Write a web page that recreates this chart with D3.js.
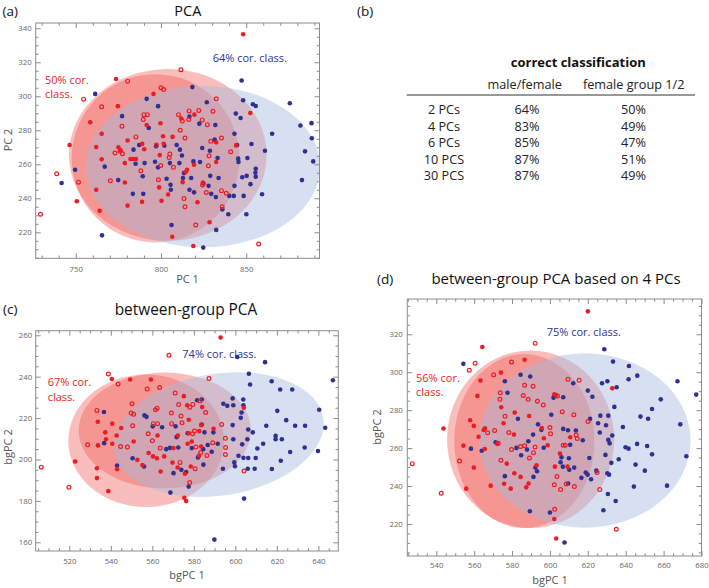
<!DOCTYPE html>
<html><head><meta charset="utf-8">
<script src="https://cdn.jsdelivr.net/npm/d3@7"></script>
<style>
body{margin:0;background:#fff;}
svg{display:block;font-family:"Open Sans",sans-serif;}
</style></head><body>
<svg id="chart" width="709" height="588"></svg>
<script>
// ---------------- DATA ----------------
// Panel (a) PCA
const aXTicks = [750, 800, 850];
const aYTicks = [220, 240, 260, 280, 300, 320, 340];
const aBlue = [[741.7,249],[749.6,256.8],[761.4,301.4],[765.4,218.2],[767,258.6],[774.9,250.7],[777.2,288.3],[783.5,242.6],[783.9,268.6],[785.1,260.3],[787.2,271.3],[789.3,253],[789.6,242.6],[791.6,298.5],[792.8,281.4],[790.4,260.7],[796.5,261.5],[798.3,294.2],[798.3,258.2],[797.1,270.6],[802,271],[803.3,251.5],[805.2,260.7],[805.6,247.9],[805.8,245],[806.2,224.3],[809.2,271.3],[810.8,260.7],[811.1,268.6],[812.3,265.2],[812.9,251.9],[813.5,254.8],[818.4,305.4],[816.7,288.1],[816.7,245],[819,261.7],[819.4,243.5],[817.7,251.9],[822.5,283.9],[822.9,261.3],[824.2,269.6],[824.9,248.7],[826.9,296.5],[827.9,247.3],[828.7,268],[828.9,253.2],[829.5,242.6],[831.9,283.1],[831.5,274.5],[833.2,263.7],[833.8,251.9],[832.2,240.7],[832.4,221.4],[836,233.5],[839.5,230.6],[840.1,241.4],[842.7,241.4],[843.1,247.3],[843.1,278],[843.9,289.8],[844.7,271.3],[845.3,263.3],[845.5,261.3],[847.3,309.3],[846.7,287.2],[848.2,297.7],[847.7,252.4],[848.5,241.4],[850.1,230.6],[850.7,263.7],[850.3,253.2],[852.5,248.3],[853.1,271.9],[853.9,295.3],[855.6,294.3],[855.6,257.4],[855.4,255],[855.6,252.7],[859.3,242.4],[861,268],[865.2,278],[875.6,295.9],[881.8,282.8],[884.5,267.6],[882.7,250.7],[888.3,284.2],[888.5,275.3],[889.3,261.7],[824.8,211]];
const aRed = [[848.2,336.5],[773.6,310.2],[774.7,294.2],[758.5,284.7],[746.4,271.3],[765.2,278],[762,270.2],[765.2,262.9],[762,245],[750.6,238.3],[764,232.6],[778.8,249.3],[780.4,274],[778.8,260.7],[782.1,263.1],[783.7,263.1],[785.3,263.1],[775,270],[776.3,268.2],[789,272],[790.2,268.8],[780.4,235.7],[788.9,237.9],[795.6,301.4],[791.6,283.1],[799.7,284.1],[799.3,265.4],[798.9,246.4],[800.3,238.5],[801.2,276.5],[801.6,272.1],[804.2,242.2],[806.6,217.4],[806.8,276.1],[811.9,286.9],[819.6,289.2],[814.5,255.4],[815.3,256.8],[812.7,249.5],[819.4,259.7],[819,211.9],[821.4,237.7],[824.6,249.3],[828.5,225.9],[832.4,272.9],[832.4,261.3],[844.1,271.1],[852.4,290.2]];
const aOpen = [[729.3,230.6],[738.8,254.4],[751.6,249.5],[754.6,298.3],[765.2,293.8],[780.4,308.9],[777.1,282.4],[773,266.6],[776,267.6],[777.4,266.2],[770.3,250.3],[785.3,276.1],[788.2,256.2],[790,289.2],[792,289.2],[789.6,286.3],[797.3,271.3],[800,305],[801.6,304],[798.5,250.9],[799.9,259.3],[804.8,264],[805.2,266],[807.3,258.2],[810.3,289.2],[811.3,280],[812.5,285.4],[814.1,275.5],[811.7,315.6],[813.5,239.8],[814.1,235],[816.5,291.4],[816.3,286.3],[820.4,224.3],[824.4,247.8],[824.2,286.1],[827.2,283.3],[822.2,291.6],[828.2,265],[827.8,259.1],[826.6,243.4],[829.2,273.5],[830.5,291.2],[832.4,298.5],[835.5,275.5],[835.5,244.5],[838.3,243],[835.9,235],[840.9,267.4],[857.3,213.1]];
const aEllRed = [[804,265.5,58,50.5,0],[796.8,263.5,49.2,49.5,0]];
const aEllBlue = [[824.7,258.6,68.7,47.4,0]];

// Panel (c) between-group PCA
const cXTicks = [520, 540, 560, 580, 600, 620, 640];
const cYTicks = [160, 180, 200, 220, 240, 260];
const cBlue = [[536.7,222.9],[536.8,207.9],[543,197.1],[550.5,200.6],[556,196.6],[556.2,221.3],[557.2,220.6],[560.2,216],[564.7,215.6],[566.7,205],[568.5,205.6],[568.7,184],[570.2,193.4],[571.2,216],[572.5,205.8],[571.7,210.8],[574,195],[576.3,193.9],[577,212.7],[577.5,186.9],[579,205.5],[600.9,249.5],[614.3,247],[606.5,241.4],[607.1,236.2],[617.5,237.8],[621.6,233.8],[627.4,233.8],[647,238.3],[598.7,229.5],[594.2,226.9],[596.1,225.9],[603.8,229],[603.9,226.2],[599,226.2],[603,222.7],[602.6,220.1],[620.2,223.5],[624.5,219],[640.4,224],[643.3,215.3],[628.8,216.3],[633.6,216.3],[614.9,216.3],[606.2,214.5],[608.4,213.1],[598.7,216.6],[583.8,229],[581.6,228.6],[583.8,216.9],[585.1,213.1],[589.4,213.1],[599,209.8],[605.8,209.8],[613.4,207.6],[619.4,209.8],[619.4,211.4],[622.4,209.8],[633.4,205.8],[639.8,204.1],[626.4,203.6],[610.6,205.3],[603.3,207.3],[601.5,201.8],[603.9,200.8],[606.2,200.7],[609.8,200.7],[617.6,195.4],[621.9,199.4],[599.5,198.6],[599.8,196.7],[594,195.5],[606,195.5],[609.3,195.5],[604.2,181.1],[589.9,161.3],[586.7,207],[584.5,205],[588.6,203.7],[591.5,207.6],[584.6,197.5],[582,201]];
const cRed = [[592.9,258.9],[540.5,238.9],[549.3,238.6],[559.3,238.6],[575.2,230.6],[533.7,218.2],[537.3,213.1],[537.7,209.8],[540.7,217.3],[542.8,211.6],[545,215.2],[533.8,206.8],[540.7,207.6],[543,195.3],[533.3,195.8],[533.3,191],[522.8,199],[538.8,184.7],[551,208.7],[552.8,199.8],[555.2,197.3],[558.2,203.1],[560.3,201.5],[562.5,211.6],[562.2,200.6],[564,194.2],[565.7,201.5],[570.2,205.5],[572.3,211.6],[569.7,198.5],[572.2,196.1],[575.7,193.1],[576.8,226.2],[577.5,219.2],[579,208.7],[577.5,212.7],[578.5,196.6],[582.6,213.7],[583.5,216.6],[582.5,201.8],[584,225.3],[589.5,214.8],[575.4,181.5],[576.3,179.9],[604.1,225],[583.5,206.3],[577,207.6]];
const cOpen = [[568,250.3],[538.8,241.3],[543.5,236.5],[557.5,234],[563.5,234.8],[550.2,226.9],[549.8,222.4],[551,221.8],[533.3,223.7],[550.5,216.3],[528.8,207.1],[544.7,206.3],[548,206],[506.5,196.3],[519.8,186.6],[571,232.1],[572.7,226.5],[573.8,221],[562.3,224.8],[561.5,224],[558,212.4],[560.5,217.3],[562.5,217.3],[563.8,205.5],[560,209],[569.2,222.4],[569.3,217.3],[574.3,217.7],[579.5,226.6],[578.1,225.2],[583,228.2],[585.7,222.7],[580.3,213.7],[579.4,212.4],[581,206],[589.1,208.1],[593.4,216.9],[595.2,210.2],[595.3,205.8],[595.2,202.4],[573.3,198.6],[580.6,195.5],[578,188.9],[604.2,194.4],[583.3,203.4],[587.3,239.1],[586.3,201.9]];
const cEllRed = [[557,209,37.5,32,0],[566,214,41.5,28,0]];
const cEllBlue = [[592,212,51,29.4,9]];

// Panel (d) between-group PCA based on 4 PCs
const dXTicks = [540, 560, 580, 600, 620, 640, 660, 680];
const dYTicks = [220, 240, 260, 280, 300, 320];
const dBlue = [[554.3,304.4],[576.2,295.2],[577.6,289.2],[584.5,298.7],[589.6,297.7],[583.1,275.4],[571.3,263.1],[558.3,259.7],[564,258.6],[582.3,260.1],[584.8,256.2],[587.9,259.2],[588.6,263.6],[593.7,272.5],[591.1,267.1],[595.5,269.6],[596.7,260.2],[592.3,249.7],[593.2,247.8],[591.3,244.8],[576.2,245.2],[589.4,226.7],[600.7,277.6],[600,226],[628.7,312.1],[633.3,305.6],[641.7,303.3],[627.5,294.2],[630.3,295.2],[635.2,292.1],[641.5,296.3],[646.1,298.2],[667.3,295.2],[677.2,288.2],[612.3,294.2],[620,290.3],[622.4,287.1],[601.9,286.6],[607,286.8],[658.5,285.7],[653.9,280.6],[634,281.7],[626.6,277.1],[630.8,277.1],[647.8,276.6],[651.8,275.5],[621.2,275.4],[668.8,272.5],[625.4,273.1],[629.6,272],[638.5,271.1],[626.3,268.2],[632.9,266.6],[607,270.1],[609.5,269.4],[613.7,269.3],[617.3,264.1],[630.8,264.3],[631.5,262.5],[639.9,260.4],[641.5,259.7],[646,262.2],[651.3,261.1],[653.9,256.7],[672,255.7],[610.7,261.7],[606.1,255.1],[605.6,252.5],[610,254.6],[620.8,254.8],[632.4,252.2],[636.3,254.1],[629.3,256.4],[645.2,251.3],[650.1,248.1],[606.8,250.2],[610.2,248.6],[612.8,249.7],[618.9,247.1],[619.9,246],[616.6,244.3],[624.5,248.1],[621.7,243.6],[630.3,246.7],[631.2,246],[609.6,241.3],[630.6,235.8],[634.7,232.1],[644.3,239.7],[661.8,240.2],[628.2,227.2],[607.7,210.2]];
const dRed = [[564.3,313.3],[586.6,306.6],[574.1,299.8],[563.3,295.6],[561.7,287.5],[557.9,274.7],[559.8,271.7],[565.7,270.4],[565,269.5],[562.3,266],[554.3,261.3],[565.6,259.5],[559.8,249.7],[555.8,238.6],[568.7,240.2],[543.8,270.3],[572.2,262.2],[574.3,281.5],[575.5,273.1],[577.2,251.8],[575.8,241.2],[579.3,238.6],[581,267.1],[581.2,246.7],[581.4,278.7],[584.5,244.8],[587.5,239.3],[588.7,241.3],[589,276.9],[595.7,270.6],[596.8,265.2],[592.9,250.9],[598.8,261.5],[620,332.1],[632.9,291.5],[602.3,288.4],[603.2,288],[610.7,265.7],[605.3,257.1],[602.6,250.2],[609.3,250.2],[602.3,222.6],[603.3,212.3]];
const dOpen = [[592.2,315.3],[560.5,304.7],[557.4,301],[579.7,305.4],[570.3,298.7],[573.8,289.2],[573.6,285.7],[527.3,251.8],[542.6,236.2],[552.3,253.2],[567.1,268.1],[570.8,269.3],[576.3,276.8],[578.3,268.2],[572.7,262.5],[574.1,253.6],[579.7,259.2],[584.5,260.8],[586.6,261.2],[592.2,260.6],[591.3,257.6],[589.2,254.8],[586.6,293.1],[591.1,292.6],[585.9,287.7],[588.5,285.7],[593.4,284.7],[596.5,282.7],[600,270.8],[600.3,267.5],[609.5,296.3],[615.4,295.7],[604,287.5],[606.5,279.2],[612.6,277.6],[613.8,266.9],[614.4,265],[607,261.5],[608.1,261.5],[603.7,245],[602.3,240.7],[605.6,238.1],[608.6,241.1],[612.9,239.7],[620.1,274],[624.9,247.1],[626.3,238.1],[602.5,227.7],[635,217.2]];
const dEllRed = [[589.8,264.6,44.1,46.8,0],[586.5,263.7,37,45.9,0]];
const dEllBlue = [[618.4,264,55.8,46,0]];

// Panel (b) table
const tblRows = ["2 PCs", "4 PCs", "6 PCs", "10 PCS", "30 PCS"];
const tblMaleFemale = [64, 83, 85, 87, 87];
const tblFemaleGroup = [50, 49, 47, 51, 49];
const tblHeaders = ["male/female", "female group 1/2"];

// ---------------- DRAWING ----------------
const RED = "#ec1c24", BLUE = "#2e3192";
const svg = d3.select("#chart");

const panels = [
  {id:"a", fx:[35.7,319.5], fy:[23,258.3], xd:[726.5,893], yd:[204.7,343.1],
   xTicks:aXTicks, yTicks:aYTicks, xMinor:10, yMinor:5, xPad:8.5, yPad:4,
   blue:aBlue, red:aRed, open:aOpen, ellR:aEllRed, ellB:aEllBlue},
  {id:"c", fx:[35.7,338.3], fy:[330.7,551], xd:[503.8,649.6], yd:[155.8,262.2],
   xTicks:cXTicks, yTicks:cYTicks, xMinor:5, yMinor:5, xPad:7.5, yPad:3.5,
   blue:cBlue, red:cRed, open:cOpen, ellR:cEllRed, ellB:cEllBlue},
  {id:"d", fx:[407.3,701.5], fy:[299,556], xd:[524.7,680], yd:[203.1,338.6],
   xTicks:dXTicks, yTicks:dYTicks, xMinor:5, yMinor:5, xPad:6, yPad:4.5,
   blue:dBlue, red:dRed, open:dOpen, ellR:dEllRed, ellB:dEllBlue}
];

function minors(dom, step, majors){
  const s = Math.ceil(dom[0]/step)*step;
  return d3.range(s, dom[1]+1e-9, step).filter(v => !majors.some(m => Math.abs(m-v) < 1e-6));
}

panels.forEach(p => {
  const x = d3.scaleLinear().domain(p.xd).range(p.fx);
  const y = d3.scaleLinear().domain(p.yd).range([p.fy[1], p.fy[0]]);
  const g = svg.append("g");
  const clipId = "clip-" + p.id;
  svg.append("clipPath").attr("id", clipId).append("rect")
    .attr("x", p.fx[0]).attr("y", p.fy[0])
    .attr("width", p.fx[1]-p.fx[0]).attr("height", p.fy[1]-p.fy[0]);
  const inner = g.append("g").attr("clip-path", `url(#${clipId})`);

  function drawEll(list, fill, op){
    list.forEach(e => {
      const [cx, cy, rx, ry, ang] = e;
      inner.append("ellipse")
        .attr("transform", `translate(${x(cx)},${y(cy)}) rotate(${-ang})`)
        .attr("rx", Math.abs(x(cx+rx)-x(cx)))
        .attr("ry", Math.abs(y(cy+ry)-y(cy)))
        .attr("fill", fill).attr("fill-opacity", op);
    });
  }
  drawEll(p.ellR, "#f0554f", 0.38);
  drawEll(p.ellB, "#a3badf", 0.45);

  g.append("g").selectAll("circle").data(p.blue).join("circle")
    .attr("cx", d => x(d[0])).attr("cy", d => y(d[1])).attr("r", 2.3).attr("fill", BLUE);
  g.append("g").selectAll("circle").data(p.red).join("circle")
    .attr("cx", d => x(d[0])).attr("cy", d => y(d[1])).attr("r", 2.3).attr("fill", RED);
  g.append("g").selectAll("circle").data(p.open).join("circle")
    .attr("cx", d => x(d[0])).attr("cy", d => y(d[1])).attr("r", 1.9)
    .attr("fill", "none").attr("stroke", RED).attr("stroke-width", 1.2);

  // frame
  g.append("rect").attr("x", p.fx[0]).attr("y", p.fy[0])
    .attr("width", p.fx[1]-p.fx[0]).attr("height", p.fy[1]-p.fy[0])
    .attr("fill", "none").attr("stroke", "#8c8c8c").attr("stroke-width", 1);

  const xMin = minors(p.xd, p.xMinor, p.xTicks);
  const yMin = minors(p.yd, p.yMinor, p.yTicks);
  function ax(gen, tr, vals, size, labels, pad){
    const a = gen.tickValues(vals).tickSizeInner(-size).tickSizeOuter(0).tickPadding(pad || 3);
    if (!labels) a.tickFormat("");
    const ag = g.append("g").attr("transform", tr).call(a);
    ag.select(".domain").remove();
    ag.selectAll("line").attr("stroke", "#8c8c8c");
    ag.attr("font-family", "'Open Sans', sans-serif").attr("font-size", 7.8);
    ag.selectAll("text").attr("fill", "#666");
  }
  const bt = `translate(0,${p.fy[1]})`, tp = `translate(0,${p.fy[0]})`;
  const lf = `translate(${p.fx[0]},0)`, rt = `translate(${p.fx[1]},0)`;
  ax(d3.axisBottom(x), bt, p.xTicks, 5, true, p.xPad);
  ax(d3.axisBottom(x), bt, xMin, 2.8, false);
  ax(d3.axisTop(x), tp, p.xTicks, 5, false);
  ax(d3.axisTop(x), tp, xMin, 2.8, false);
  ax(d3.axisLeft(y), lf, p.yTicks, 5, true, p.yPad);
  ax(d3.axisLeft(y), lf, yMin, 2.8, false);
  ax(d3.axisRight(y), rt, p.yTicks, 5, false);
  ax(d3.axisRight(y), rt, yMin, 2.8, false);
});

// ---------- text ----------
function txt(s, xx, yy, opts){
  const t = svg.append("text").attr("x", xx).attr("y", yy).text(s)
    .attr("font-size", opts.size).attr("fill", opts.fill || "#111")
    .attr("text-anchor", opts.anchor || "start");
  if (opts.weight) t.attr("font-weight", opts.weight);
  if (opts.rotate) t.attr("transform", `rotate(-90,${xx},${yy})`);
  return t;
}
// panel labels & titles
txt("(a)", 2.5, 16, {size:13.5});
txt("PCA", 187.8, 15.5, {size:14.5, anchor:"middle"});
txt("(b)", 357, 16, {size:13.5});
txt("(c)", 3, 314, {size:13.5});
txt("between-group PCA", 186, 315, {size:15.4, anchor:"middle"});
txt("(d)", 377, 284, {size:13.5});
txt("between-group PCA based on 4 PCs", 556, 284, {size:15, anchor:"middle"});

// axis titles
txt("PC 1", 187.5, 283, {size:11, anchor:"middle", fill:"#555"});
txt("PC 2", 11.8, 140, {size:11, anchor:"middle", fill:"#555", rotate:true});
txt("bgPC 1", 187, 579, {size:11, anchor:"middle", fill:"#555"});
txt("bgPC 2", 11.5, 447, {size:11, anchor:"middle", fill:"#555", rotate:true});
txt("bgPC 1", 550, 583.5, {size:11, anchor:"middle", fill:"#555"});
txt("bgPC 2", 380.5, 427, {size:11, anchor:"middle", fill:"#555", rotate:true});

// annotations
txt("50% cor.", 45, 84, {size:11, fill:RED});
txt("class.", 45, 97.5, {size:11, fill:RED});
txt("64% cor. class.", 212.7, 61.7, {size:11, fill:BLUE});
txt("67% cor.", 47.7, 386, {size:11, fill:RED});
txt("class.", 47.7, 400.5, {size:11, fill:RED});
txt("74% cor. class.", 182.3, 358.3, {size:11, fill:BLUE});
txt("56% cor.", 416, 381.7, {size:11, fill:RED});
txt("class.", 416, 396, {size:11, fill:RED});
txt("75% cor. class.", 546.7, 336, {size:11, fill:BLUE});

// table (b)
txt("correct classification", 578.3, 67, {size:13, anchor:"middle", weight:"bold"});
const colX = [527, 633.5];
txt(tblHeaders[0], 524.7, 88.5, {size:12.7, anchor:"middle", fill:"#222"});
txt(tblHeaders[1], 633.7, 88.5, {size:12.7, anchor:"middle", fill:"#222"});
svg.append("line").attr("x1", 406.7).attr("x2", 695).attr("y1", 95).attr("y2", 95)
  .attr("stroke", "#333").attr("stroke-width", 1);
const rowY = d3.scalePoint().domain(tblRows).range([114, 180]);
tblRows.forEach((r, i) => {
  txt(r, 444, rowY(r), {size:12.7, anchor:"middle", fill:"#222"});
  txt(tblMaleFemale[i] + "%", colX[0], rowY(r), {size:12.7, anchor:"middle", fill:"#222"});
  txt(tblFemaleGroup[i] + "%", colX[1], rowY(r), {size:12.7, anchor:"middle", fill:"#222"});
});
</script>
</body></html>
